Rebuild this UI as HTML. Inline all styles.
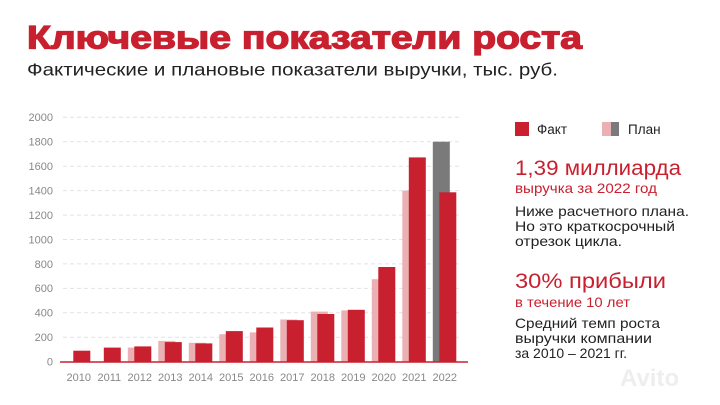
<!DOCTYPE html>
<html><head><meta charset="utf-8"><style>
html,body{margin:0;padding:0;background:#fff;}
svg{display:block;font-family:"Liberation Sans","DejaVu Sans",sans-serif;}
</style></head><body>
<svg width="720" height="405" viewBox="0 0 720 405" xmlns="http://www.w3.org/2000/svg">
<rect width="720" height="405" fill="#fff"/>
<text x="27" y="48.5" font-size="32" font-weight="bold" fill="#c8202f" textLength="555" lengthAdjust="spacingAndGlyphs" stroke="#c8202f" stroke-width="1.3">Ключевые показатели роста</text>
<text x="27" y="75.5" font-size="17.5" fill="#222" textLength="531" lengthAdjust="spacingAndGlyphs">Фактические и плановые показатели выручки, тыс. руб.</text>

<g stroke="#e2e2e2" stroke-width="1" stroke-dasharray="4,3">
<line x1="63" y1="117.3" x2="462" y2="117.3"/>
<line x1="63" y1="141.7" x2="462" y2="141.7"/>
<line x1="63" y1="166.2" x2="462" y2="166.2"/>
<line x1="63" y1="190.6" x2="462" y2="190.6"/>
<line x1="63" y1="215.1" x2="462" y2="215.1"/>
<line x1="63" y1="239.5" x2="462" y2="239.5"/>
<line x1="63" y1="263.9" x2="462" y2="263.9"/>
<line x1="63" y1="288.4" x2="462" y2="288.4"/>
<line x1="63" y1="312.8" x2="462" y2="312.8"/>
<line x1="63" y1="337.3" x2="462" y2="337.3"/>
</g>
<g font-size="11" fill="#888" text-anchor="end">
<text x="53" y="121">2000</text><text x="53" y="145.5">1800</text><text x="53" y="170">1600</text>
<text x="53" y="194.5">1400</text><text x="53" y="219">1200</text><text x="53" y="243.5">1000</text>
<text x="53" y="268">800</text><text x="53" y="292">600</text><text x="53" y="316.5">400</text>
<text x="53" y="341">200</text><text x="53" y="365.5">0</text>
</g>
<g fill="#ebb0b4">
<rect x="127.8" y="347.6" width="17" height="14.1"/>
<rect x="158.3" y="340.9" width="17" height="20.8"/>
<rect x="188.8" y="342.8" width="17" height="18.9"/>
<rect x="219.3" y="334.2" width="17" height="27.5"/>
<rect x="249.8" y="332.4" width="17" height="29.3"/>
<rect x="280.3" y="319.5" width="17" height="42.2"/>
<rect x="310.8" y="311.6" width="17" height="50.1"/>
<rect x="341.3" y="310.4" width="17" height="51.3"/>
<rect x="371.8" y="279.2" width="17" height="82.5"/>
<rect x="402.3" y="190.6" width="17" height="171.1"/>
</g>
<rect x="432.8" y="141.7" width="17" height="220" fill="#7a7a7a"/>
<g fill="#c8202f">
<rect x="73.3" y="350.7" width="17" height="11"/>
<rect x="103.8" y="347.6" width="17" height="14.1"/>
<rect x="134.3" y="346.4" width="17" height="15.3"/>
<rect x="164.8" y="342.1" width="17" height="19.6"/>
<rect x="195.3" y="343.4" width="17" height="18.3"/>
<rect x="225.8" y="331.1" width="17" height="30.6"/>
<rect x="256.3" y="327.5" width="17" height="34.2"/>
<rect x="286.8" y="320.2" width="17" height="41.5"/>
<rect x="317.3" y="314" width="17" height="47.7"/>
<rect x="347.8" y="309.8" width="17" height="51.9"/>
<rect x="378.3" y="267" width="17" height="94.7"/>
<rect x="408.8" y="157.4" width="17" height="204.3"/>
<rect x="439.3" y="192.3" width="17" height="169.4"/>
</g>
<line x1="60" y1="362" x2="468" y2="362" stroke="#c8202f" stroke-width="1.5"/>
<g font-size="11" fill="#888" text-anchor="middle">
<text x="78.8" y="381">2010</text><text x="109.3" y="381">2011</text><text x="139.8" y="381">2012</text>
<text x="170.3" y="381">2013</text><text x="200.8" y="381">2014</text><text x="231.3" y="381">2015</text>
<text x="261.8" y="381">2016</text><text x="292.3" y="381">2017</text><text x="322.8" y="381">2018</text>
<text x="353.3" y="381">2019</text><text x="383.8" y="381">2020</text><text x="414.3" y="381">2021</text>
<text x="444.8" y="381">2022</text>
</g>

<rect x="515" y="122" width="14" height="14" fill="#c8202f"/>
<text x="537" y="134" font-size="13.5" fill="#222">Факт</text>
<rect x="602" y="122" width="9" height="14" fill="#ebb0b4"/>
<rect x="611" y="122" width="8" height="14" fill="#7a7a7a"/>
<text x="628" y="134" font-size="13.5" fill="#222">План</text>

<text x="515" y="175" font-size="21" fill="#c8202f" textLength="166" lengthAdjust="spacingAndGlyphs">1,39 миллиарда</text>
<text x="515" y="193" font-size="14" fill="#c8202f" textLength="142" lengthAdjust="spacingAndGlyphs">выручка за 2022 год</text>
<g font-size="14" fill="#222">
<text x="515" y="216" textLength="174" lengthAdjust="spacingAndGlyphs">Ниже расчетного плана.</text>
<text x="515" y="231" textLength="160" lengthAdjust="spacingAndGlyphs">Но это краткосрочный</text>
<text x="515" y="246" textLength="107" lengthAdjust="spacingAndGlyphs">отрезок цикла.</text>
</g>
<text x="515" y="288" font-size="21" fill="#c8202f" textLength="151" lengthAdjust="spacingAndGlyphs">30% прибыли</text>
<text x="515" y="307" font-size="14" fill="#c8202f" textLength="115" lengthAdjust="spacingAndGlyphs">в течение 10 лет</text>
<g font-size="14" fill="#222">
<text x="515" y="328" textLength="145" lengthAdjust="spacingAndGlyphs">Средний темп роста</text>
<text x="515" y="343" textLength="137" lengthAdjust="spacingAndGlyphs">выручки компании</text>
<text x="515" y="358" textLength="112" lengthAdjust="spacingAndGlyphs">за 2010 – 2021 гг.</text>
</g>
<text x="620" y="386" font-size="24" font-weight="bold" fill="#eee">Avito</text>
</svg>
</body></html>
